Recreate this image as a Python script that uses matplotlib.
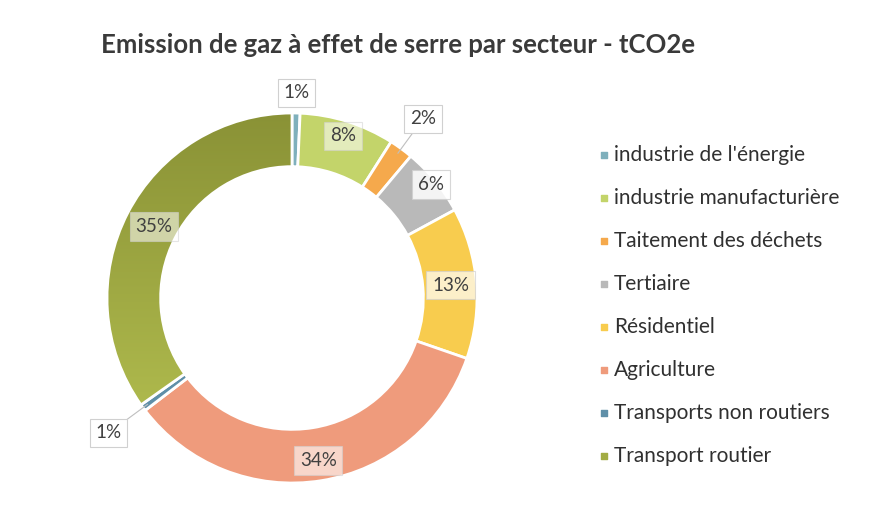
import numpy as np
import matplotlib
matplotlib.use("Agg")
import matplotlib.pyplot as plt
from matplotlib.colors import LinearSegmentedColormap

plt.rcParams['font.family'] = ['Lato', 'DejaVu Sans']

# parts des émissions (tCO2e, en %)
secteurs = ["industrie de l'énergie", "industrie manufacturière", "Taitement des déchets",
            "Tertiaire", "Résidentiel", "Agriculture", "Transports non routiers",
            "Transport routier"]
parts = [0.7, 8.3, 2.1, 6.0, 13.2, 34.3, 0.6, 34.8]
couleurs = ["#7fb0bc", "#c3d46a", "#f5a94c", "#b9b9b9", "#f8cc4e", "#ef9b7c",
            "#5f8fa8", "#a2ac44"]

# position radiale des étiquettes (1 = bord extérieur)
r_etiq = [1.11, 0.92, 1.2, 0.97, 0.86, 0.89, 1.23, 0.84]
fond_etiq = [1.0, 0.55, 1.0, 0.85, 0.7, 0.6, 1.0, 0.55]

W, H = 882, 511
fig = plt.figure(figsize=(W / 100, H / 100), dpi=100)
ax = fig.add_axes([0, 0, 1, 1])

cx, cy, R = 292, H - 298, 185
wedges, _ = ax.pie(parts, colors=couleurs, startangle=90, counterclock=False,
                   center=(cx, cy), radius=R, frame=True,
                   wedgeprops=dict(width=R * 0.29, edgecolor='white', linewidth=2))
ax.set_xlim(0, W)
ax.set_ylim(0, H)
ax.set_aspect('equal')
ax.axis('off')

# dégradé pour le transport routier
degrade = LinearSegmentedColormap.from_list('olive', ['#b7c352', '#8a9236'])
grad = np.linspace(0, 1, 256).reshape(-1, 1)
im = ax.imshow(grad, cmap=degrade, origin='lower', aspect='auto',
               extent=(cx - R, cx, cy - R, cy + R), zorder=wedges[-1].get_zorder())
im.set_clip_path(wedges[-1])
wedges[-1].set_facecolor('none')
wedges[-1].set_zorder(im.get_zorder() + 0.1)

for w, p, r, a in zip(wedges, parts, r_etiq, fond_etiq):
    ang = np.deg2rad((w.theta1 + w.theta2) / 2)
    x = cx + r * R * np.cos(ang)
    y = cy + r * R * np.sin(ang)
    if r > 1.15:
        # trait de rappel
        ax.plot([cx + 0.97 * R * np.cos(ang), cx + (r - 0.09) * R * np.cos(ang)],
                [cy + 0.97 * R * np.sin(ang), cy + (r - 0.09) * R * np.sin(ang)],
                color='#bfbfbf', lw=0.8)
    ax.text(x, y, f"{round(p)}%", ha='center', va='center', fontsize=13.5,
            color='#404040', zorder=5,
            bbox=dict(boxstyle='square,pad=0.3', facecolor='white', alpha=a,
                      edgecolor='#d0d0d0', linewidth=0.8))

fig.text(398 / W, 1 - 45 / H, "Emission de gaz à effet de serre par secteur - tCO2e",
         ha='center', va='center', fontsize=18.5, color='#3a3a3a', fontweight='bold')

for i, (s, c) in enumerate(zip(secteurs, couleurs)):
    y = H - (155 + i * 43)
    ax.scatter([604], [y], marker='s', s=22, color=c)
    ax.text(614, y, s, ha='left', va='center', fontsize=15, color='#303030')

fig.savefig("out.png", dpi=100, facecolor='white')
